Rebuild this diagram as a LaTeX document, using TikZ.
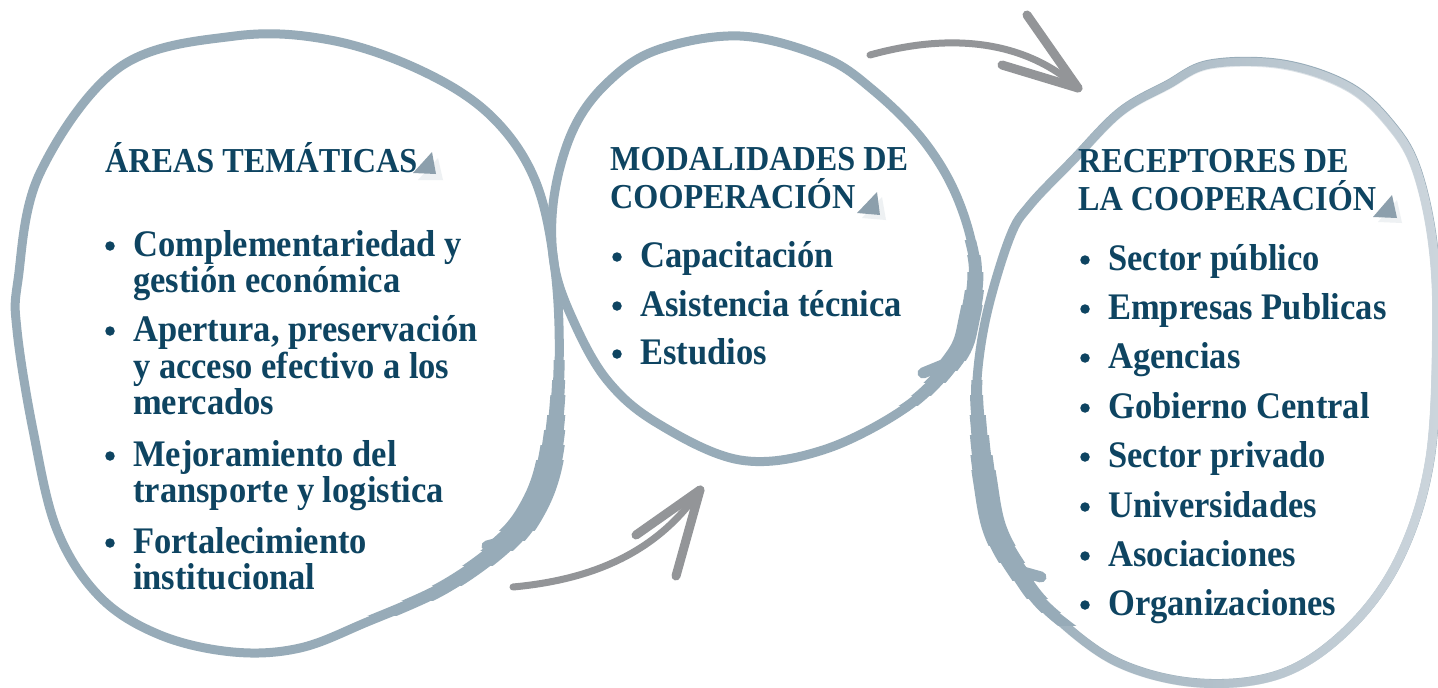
\documentclass[tikz,border=0pt]{standalone}
\usepackage{fontspec}
\setmainfont{Liberation Serif}[FakeStretch=0.92]
\usetikzlibrary{fadings}
\definecolor{txt}{HTML}{0E4461}
\definecolor{ring}{HTML}{97ABB8}
\definecolor{ringlight}{HTML}{CDD6DD}
\definecolor{arr}{HTML}{939598}
\definecolor{tri}{HTML}{8C9FAC}
\definecolor{trishadow}{HTML}{EEF1F3}
\newcommand\bitem[4]{%
  \node[dot] (#1d) at (#2,#3-10) {};
  \node[item] (#1) at (#2+23,#3) {#4};}
\newcommand\thickpart[4]{% #1 width, #2 y from, #3 y to, #4 plot
  \begin{scope}
    \clip (0,#2) rectangle (1438,#3);
    \draw[draw=ring, line width=#1pt, line join=round] #4;
  \end{scope}}
\begin{document}
\begin{tikzpicture}[x=1pt,y=-1pt,
  ringline/.style={draw=ring, line width=9pt, line cap=round, line join=round},
  hook/.style={draw=ring, line width=11pt, line cap=round},
  shaft/.style={draw=arr, line width=7pt, line cap=round},
  headarm/.style={draw=arr, line width=9pt, line cap=round},
  title/.style={anchor=base west, text=txt, font=\bfseries\fontsize{35}{40}\selectfont, inner sep=0pt},
  item/.style={anchor=base west, text=txt, font=\bfseries\fontsize{37.5}{40}\selectfont, inner sep=0pt},
  dot/.style={circle, fill=txt, inner sep=0pt, minimum size=9.5pt},
  tribox/.style={fill=tri}]
\useasboundingbox (0,0) rectangle (1438,688);
\fill[white] (0,0) rectangle (1438,688);

% ---------- left loop ----------
\draw[ringline] plot[smooth cycle, tension=0.6] coordinates {
 (17,330) (33,430) (57,530) (100,597) (160,635) (233,652) (300,648) (367,622)
 (440,590) (498,550) (530,513) (550,460) (559,370) (555,270) (535,180) (490,115)
 (420,70) (330,40) (235,36) (120,67) (40,173) (18,280)};
\def\leftthick{plot[smooth, tension=0.6] coordinates {(555,270) (559,370) (550,460) (530,513) (498,550) (440,590) (367,622)}}
\thickpart{11}{360}{615}{\leftthick}
\thickpart{13}{380}{600}{\leftthick}
\thickpart{15}{395}{585}{\leftthick}
\thickpart{18}{415}{565}{\leftthick}
\thickpart{21}{430}{550}{\leftthick}
\thickpart{24}{445}{540}{\leftthick}
\thickpart{27}{460}{530}{\leftthick}
\draw[hook] (510,540) -- (487,546);

% ---------- middle loop ----------
\draw[ringline] plot[smooth cycle, tension=0.6] coordinates {
 (740,36) (823,57) (873,90) (923,140) (957,197) (975,263) (969,320) (955,358)
 (907,407) (823,450) (740,460) (657,423) (607,380) (573,320) (554,263) (554,197)
 (573,130) (607,83) (657,50)};
\def\midthick{plot[smooth, tension=0.6] coordinates {(957,197) (975,263) (969,320) (955,358) (907,407) (823,450)}}
\thickpart{11}{240}{405}{\midthick}
\thickpart{13}{255}{395}{\midthick}
\thickpart{16}{272}{382}{\midthick}
\thickpart{19}{290}{370}{\midthick}
\thickpart{21}{305}{360}{\midthick}
\draw[hook] (945,364) -- (923,373);

% ---------- right loop (gradient) ----------
\def\rightloop{plot[smooth cycle, tension=0.6] coordinates {
 (977,380) (987,313) (1010,237) (1030,205) (1073,160) (1120,112) (1167,85) (1210,64)
 (1283,64) (1350,87) (1393,127) (1417,170) (1433,243) (1437,330) (1430,460)
 (1400,557) (1350,627) (1283,673) (1200,683) (1117,662) (1050,612) (1018,572)
 (995,530) (985,480) (979,430)}}
\draw[ringline] \rightloop;
\draw[ringline, draw=ringlight, path fading=west] \rightloop;
\def\rightthick{plot[smooth, tension=0.6] coordinates {(987,313) (977,380) (979,430) (985,480) (995,530) (1018,572) (1050,612) (1117,662)}}
\thickpart{11}{380}{625}{\rightthick}
\thickpart{13}{395}{612}{\rightthick}
\thickpart{16}{415}{598}{\rightthick}
\thickpart{19}{435}{580}{\rightthick}
\thickpart{22}{455}{562}{\rightthick}
\thickpart{24}{470}{545}{\rightthick}
\draw[hook] (1016,570) -- (1041,577);

% ---------- arrows ----------
\coordinate (a1s) at (513,587);
\coordinate (a1t) at (700,490);
\coordinate (a1l) at (636,535);
\coordinate (a1r) at (676,576);
\draw[shaft] (a1s) .. controls (600,579) and (660,548) .. (a1t);
\draw[headarm] (a1t) -- (a1l);
\draw[headarm] (a1t) -- (a1r);

\coordinate (a2s) at (870,55);
\coordinate (a2t) at (1078,88);
\coordinate (a2l) at (1002,65);
\coordinate (a2r) at (1027,15);
\draw[shaft] (a2s) .. controls (960,30) and (1030,45) .. (a2t);
\draw[headarm] (a2t) -- (a2l);
\draw[headarm] (a2t) -- (a2r);

% ---------- triangles ----------
\fill[trishadow] (418,180) -- (438,158) -- (443,180) -- cycle;
\fill[tribox] (413,173) -- (432,152) -- (436,174) -- cycle;
\fill[trishadow] (862,218) -- (882,197) -- (886,220) -- cycle;
\fill[tribox] (857,213) -- (877,192) -- (880,215) -- cycle;
\fill[trishadow] (1378,222) -- (1397,200) -- (1402,223) -- cycle;
\fill[tribox] (1373,217) -- (1392,195) -- (1397,218) -- cycle;

% ---------- left text ----------
\node[title] (t1) at (105,172) {ÁREAS TEMÁTICAS};
\bitem{l1}{110}{256}{Complementariedad y}
\node[item] (l1b) at (133,292) {gestión económica};
\bitem{l2}{110}{341}{Apertura, preservación}
\node[item] (l2b) at (133,378) {y acceso efectivo a los};
\node[item] (l2c) at (133,414) {mercados};
\bitem{l3}{110}{466}{Mejoramiento del}
\node[item] (l3b) at (133,502) {transporte y logistica};
\bitem{l4}{110}{553}{Fortalecimiento}
\node[item] (l4b) at (133,589) {institucional};

% ---------- middle text ----------
\node[title] (t2) at (610,170) {MODALIDADES DE};
\node[title] (t2b) at (610,208) {COOPERACIÓN};
\bitem{m1}{617}{267}{Capacitación}
\bitem{m2}{617}{316}{Asistencia técnica}
\bitem{m3}{617}{364}{Estudios}

% ---------- right text ----------
\node[title] (t3) at (1078,172) {RECEPTORES DE};
\node[title] (t3b) at (1078,210) {LA COOPERACIÓN};
\bitem{r1}{1085}{270}{Sector público}
\bitem{r2}{1085}{319}{Empresas Publicas}
\bitem{r3}{1085}{368}{Agencias}
\bitem{r4}{1085}{418}{Gobierno Central}
\bitem{r5}{1085}{467}{Sector privado}
\bitem{r6}{1085}{517}{Universidades}
\bitem{r7}{1085}{566}{Asociaciones}
\bitem{r8}{1085}{615}{Organizaciones}
\end{tikzpicture}
\end{document}
